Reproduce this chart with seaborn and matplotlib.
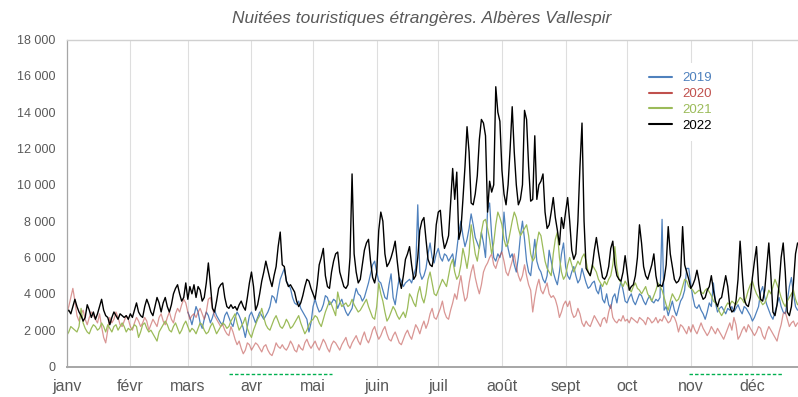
import numpy as np
import pandas as pd
import matplotlib
matplotlib.use("Agg")
import matplotlib.pyplot as plt
import matplotlib.transforms as mtransforms
from matplotlib.lines import Line2D
from matplotlib.ticker import FuncFormatter, FixedLocator
import seaborn as sns

# Nuitées quotidiennes de touristes étrangers, en centaines, jour 0 = 1er janvier
nuitees_2019 = [np.nan] * 59 + [
    30, 27, 23, 28,
    33, 30, 24, 21, 26, 30, 28,
    24, 27, 31, 28, 26, 24, 23,
    28, 30, 27, 24, 22, 27, 30,
    28, 25, 21, 16, 22, 28, 30,
    27, 24, 27, 30, 28, 26, 28,
    30, 33, 39, 38, 35, 42, 48,
    51, 54, 47, 45, 43, 38, 35,
    34, 36, 32, 30, 28, 26, 19,
    24, 33, 37, 33, 30, 31, 34,
    39, 38, 34, 35, 37, 36, 32,
    35, 37, 33, 30, 28, 30, 32,
    38, 43, 40, 39, 36, 38, 42,
    46, 51, 56, 58, 52, 47, 46,
    42, 38, 37, 45, 51, 38, 34,
    42, 49, 47, 44, 46, 47, 48,
    46, 50, 54, 89, 52, 48, 50,
    54, 62, 68, 60, 57, 62, 65,
    60, 58, 62, 61, 58, 60, 62,
    55, 64, 74, 80, 72, 66, 70,
    76, 84, 78, 71, 68, 65, 74,
    68, 60, 86, 90, 72, 60, 58,
    62, 60, 64, 85, 72, 65, 60,
    62, 56, 52, 60, 72, 80, 70,
    58, 52, 50, 60, 70, 58, 54,
    52, 48, 46, 50, 64, 58, 52,
    48, 45, 52, 62, 68, 55, 50,
    48, 52, 55, 50, 46, 48, 54,
    50, 46, 43, 44, 46, 47, 42,
    40, 45, 37, 35, 40, 34, 32,
    38, 40, 35, 42, 47, 42, 36,
    35, 38, 40, 36, 34, 37, 40,
    39, 36, 34, 37, 39, 36, 35,
    37, 36, 38, 81, 31, 33, 28,
    32, 36, 31, 28, 32, 36, 38,
    42, 54, 54, 45, 38, 33, 32,
    34, 31, 29, 26, 30, 35, 33,
    46, 35, 30, 32, 33, 31, 29,
    32, 31, 33, 30, 32, 34, 31,
    29, 33, 32, 30, 28, 25, 27,
    30, 33, 41, 44, 38, 34, 31,
    28, 26, 30, 34, 38, 33, 30,
    29, 36, 44, 49, 40, 33, 31,
]

nuitees_2020 = [
    29, 33, 38, 43, 36, 28, 25,
    29, 31, 26, 23, 27, 30, 28,
    26, 24, 29, 22, 16, 13, 20,
    27, 24, 26, 30, 27, 23, 22,
    25, 28, 26, 22, 20, 24, 27,
    25, 22, 24, 27, 25, 20, 23,
    26, 24, 22, 27, 29, 25, 23,
    27, 30, 26, 24, 29, 32, 30,
    34, 37, 35, 30, 26, 28, 29,
    27, 30, 32, 29, 26, 30, 37,
    38, 32, 28, 26, 24, 22, 23,
    20, 18, 17, 22, 19, 15, 12,
    14, 10, 7, 9, 13, 12, 9,
    11, 13, 12, 10, 8, 11, 12,
    9, 7, 6, 9, 13, 11, 10,
    12, 10, 9, 11, 14, 12, 9,
    8, 12, 10, 9, 13, 15, 12,
    10, 12, 14, 11, 9, 12, 15,
    13, 10, 8, 12, 14, 13, 11,
    9, 12, 14, 16, 12, 10, 13,
    15, 17, 14, 12, 16, 19, 15,
    13, 16, 20, 22, 18, 15, 17,
    20, 22, 18, 15, 14, 17, 19,
    16, 13, 12, 15, 18, 20, 17,
    15, 19, 23, 21, 18, 22, 25,
    21, 24, 29, 32, 27, 26, 29,
    32, 36, 30, 27, 26, 31, 35,
    40, 37, 44, 50, 42, 36, 38,
    46, 52, 56, 49, 44, 40, 45,
    52, 55, 57, 60, 62, 56, 54,
    58, 61, 63, 58, 52, 50, 54,
    58, 62, 55, 50, 47, 50, 56,
    50, 45, 42, 30, 38, 44, 48,
    42, 40, 43, 46, 40, 38, 39,
    37, 33, 27, 30, 34, 36, 33,
    36, 30, 27, 28, 32, 29, 24,
    22, 25, 23, 22, 25, 28, 26,
    24, 22, 26, 27, 24, 30, 34,
    27, 25, 24, 26, 25, 28, 25,
    26, 24, 27, 26, 25, 24, 27,
    26, 25, 23, 27, 26, 24, 25,
    27, 24, 26, 25, 28, 26, 24,
    25, 28, 27, 24, 19, 23, 22,
    20, 18, 22, 19, 23, 20, 18,
    21, 24, 21, 19, 17, 19, 22,
    20, 18, 21, 19, 17, 15, 18,
    21, 24, 20, 27, 23, 15, 17,
    20, 22, 19, 23, 21, 19, 17,
    19, 22, 21, 17, 15, 19, 22,
    20, 18, 16, 14, 19, 23, 29,
    30, 26, 22, 24, 25, 22, 24,
]

nuitees_2021 = [
    17, 19, 22, 21, 20, 19, 22,
    32, 24, 21, 19, 18, 21, 23,
    22, 20, 21, 24, 22, 19, 23,
    21, 19, 22, 23, 20, 22, 24,
    22, 19, 21, 20, 21, 23, 22,
    16, 19, 23, 24, 21, 19, 20,
    18, 16, 14, 19, 21, 23, 25,
    23, 20, 19, 22, 24, 21, 18,
    20, 23, 25, 22, 19, 21, 20,
    18, 21, 24, 23, 20, 18, 19,
    22, 24, 21, 18, 20, 22, 24,
    23, 21, 22, 25, 27, 29, 24,
    20, 22, 24, 27, 21, 18, 16,
    20, 23, 26, 28, 32, 27, 23,
    21, 20, 23, 26, 28, 25, 22,
    21, 23, 26, 24, 21, 22, 24,
    26, 28, 24, 21, 18, 20, 23,
    25, 26, 28, 27, 24, 22, 26,
    30, 33, 36, 34, 31, 28, 41,
    36, 33, 34, 35, 33, 34, 37,
    34, 32, 30, 31, 33, 35, 37,
    33, 30, 27, 26, 33, 46, 40,
    36, 30, 25, 27, 30, 33, 31,
    28, 26, 28, 30, 27, 32, 40,
    38, 35, 33, 40, 44, 38, 35,
    40, 48, 52, 46, 40, 39, 42,
    45, 48, 46, 44, 50, 56, 59,
    52, 48, 50, 56, 65, 60, 54,
    62, 78, 70, 62, 58, 66, 74,
    80, 81, 76, 70, 62, 68, 78,
    85, 82, 78, 70, 66, 68, 74,
    80, 85, 82, 76, 72, 74, 76,
    78, 72, 62, 58, 60, 68, 74,
    72, 65, 58, 54, 52, 50, 62,
    70, 74, 60, 52, 48, 50, 56,
    60, 56, 52, 55, 58, 56, 60,
    62, 58, 52, 50, 56, 54, 52,
    48, 46, 44, 47, 45, 48, 50,
    56, 66, 54, 48, 46, 44, 47,
    45, 43, 41, 44, 46, 43, 42,
    40, 42, 44, 40, 38, 36, 39,
    42, 46, 44, 42, 38, 34, 31,
    36, 40, 38, 36, 37, 40, 44,
    48, 47, 44, 43, 42, 40, 41,
    42, 41, 40, 42, 43, 41, 39,
    36, 35, 33, 30, 28, 30, 33,
    35, 34, 36, 35, 34, 36, 38,
    37, 35, 38, 42, 45, 47, 43,
    40, 38, 36, 34, 35, 38, 42,
    40, 44, 48, 45, 42, 38, 35,
    33, 36, 38, 40, 42, 37, 34,
]

nuitees_2022 = [
    30, 31, 29, 33, 37, 33, 30,
    28, 25, 27, 34, 31, 27, 30,
    26, 29, 33, 37, 31, 28, 27,
    23, 27, 30, 28, 26, 29, 28,
    27, 28, 26, 29, 27, 31, 35,
    30, 28, 27, 33, 37, 34, 30,
    28, 33, 38, 35, 30, 35, 38,
    33, 30, 34, 40, 43, 45, 40,
    36, 38, 46, 37, 44, 40, 45,
    38, 44, 42, 36, 38, 46, 57,
    45, 32, 30, 36, 43, 45, 46,
    38, 33, 32, 34, 32, 33, 31,
    34, 36, 33, 31, 38, 46, 52,
    44, 31, 34, 40, 47, 52, 58,
    53, 48, 44, 50, 55, 66, 74,
    56, 55, 47, 44, 45, 43, 41,
    36, 33, 35, 39, 44, 48, 47,
    43, 40, 37, 45, 56, 60, 65,
    50, 44, 43, 52, 58, 62, 63,
    52, 48, 44, 43, 45, 60, 106,
    62, 52, 46, 48, 56, 64, 68,
    70, 58, 49, 46, 52, 75, 85,
    80, 62, 55, 57, 60, 64, 69,
    58, 48, 43, 50, 59, 62, 66,
    56, 48, 50, 60, 75, 80, 82,
    70, 59, 56, 55, 62, 78, 85,
    86, 72, 65, 68, 72, 90, 109,
    92, 107, 70, 75, 92, 110, 132,
    118, 90, 89, 95, 105, 125, 136,
    134, 127, 85, 102, 96, 100, 154,
    140, 135, 108, 95, 89, 100, 120,
    143, 118, 100, 89, 92, 100, 141,
    136, 110, 91, 92, 127, 92, 100,
    102, 106, 85, 76, 78, 85, 93,
    82, 75, 67, 82, 76, 85, 93,
    80, 64, 59, 62, 80, 110, 134,
    80, 54, 52, 50, 55, 64, 71,
    63, 56, 49, 48, 50, 55, 65,
    69, 56, 50, 48, 47, 52, 61,
    52, 42, 44, 45, 50, 60, 78,
    68, 55, 50, 48, 52, 56, 62,
    50, 44, 45, 44, 48, 56, 77,
    62, 55, 48, 46, 47, 50, 77,
    56, 52, 48, 43, 45, 48, 53,
    47, 40, 37, 38, 42, 44, 50,
    42, 36, 33, 37, 38, 44, 50,
    44, 33, 30, 31, 36, 48, 69,
    52, 37, 34, 33, 38, 49, 58,
    66, 45, 37, 36, 42, 55, 68,
    50, 30, 28, 34, 45, 60, 68,
    52, 30, 28, 33, 46, 62, 68,
]

years = ["2019", "2020", "2021", "2022"]
month_labels = ["janv", "févr", "mars", "avr", "mai", "juin",
                "juil", "août", "sept", "oct", "nov", "déc"]
month_start = [0, 31, 59, 90, 120, 151, 181, 212, 243, 273, 304, 334]
y_ticks = [0, 2000, 4000, 6000, 8000, 10000, 12000, 14000, 16000, 18000]

# Périodes de confinement (jours de l'année)
confinement_debut = [79, 303]
confinement_fin = [129, 349]

series = {"2019": nuitees_2019, "2020": nuitees_2020,
          "2021": nuitees_2021, "2022": nuitees_2022}
frames = []
for yr in years:
    vals = np.array(series[yr], dtype=float) * 100
    frames.append(pd.DataFrame({"jour": np.arange(len(vals)),
                                "nuitees": vals, "annee": yr}))
df = pd.concat(frames, ignore_index=True).dropna()

colors = {"2019": "#4f81bd", "2020": "#c0504d", "2021": "#9bbb59", "2022": "#000000"}
line_alpha = {"2019": 1.0, "2020": 0.6, "2021": 1.0, "2022": 1.0}
line_width = {"2019": 0.9, "2020": 0.9, "2021": 0.9, "2022": 1.0}

sns.set_theme(style="white")
plt.rcParams["font.family"] = ["Liberation Sans", "DejaVu Sans"]

W, H = 798, 397
fig = plt.figure(figsize=(W / 100, H / 100), dpi=100)
x0, y_bottom, y_top = 66.7, 366.5, 39.5
ax = fig.add_axes([x0 / W, (H - y_bottom) / H, 1 - x0 / W, (y_bottom - y_top) / H])

for yr in years:
    sub = df[df["annee"] == yr]
    sns.lineplot(data=sub, x="jour", y="nuitees", color=colors[yr],
                 lw=line_width[yr], alpha=line_alpha[yr], estimator=None,
                 sort=False, ax=ax, legend=False)

ax.set_xlim(0, (W - x0) / 2.053)
ax.set_ylim(0, 18000)

# vertical month gridlines
for d in month_start[1:]:
    ax.axvline(d, color="#dedede", lw=0.8, zorder=0)

ax.xaxis.set_major_locator(FixedLocator(month_start))
ax.set_xticklabels(month_labels)
ax.set_yticks(y_ticks)
ax.yaxis.set_major_formatter(FuncFormatter(lambda v, p: f"{int(v):,}".replace(",", " ")))
ax.tick_params(axis="x", length=0, pad=9, labelsize=11.5, labelcolor="#595959")
ax.tick_params(axis="y", length=0, pad=8, labelsize=9, labelcolor="#595959")
ax.set_xlabel("")
ax.set_ylabel("")

ax.spines["right"].set_visible(False)
ax.spines["top"].set_color("#d0d0d0")
ax.spines["top"].set_linewidth(1.0)
ax.spines["left"].set_color("#a6a6a6")
ax.spines["left"].set_linewidth(0.9)
ax.spines["bottom"].set_color("#a6a6a6")
ax.spines["bottom"].set_linewidth(1.4)

# confinement markers below the date axis
trans = mtransforms.blended_transform_factory(ax.transData, ax.transAxes)
for a, b in zip(confinement_debut, confinement_fin):
    ax.plot([a, b], [-0.023, -0.023], transform=trans, clip_on=False,
            color="#00b050", lw=1.0, ls=(0, (2.5, 1.5)))

handles = [Line2D([0], [0], color=colors[yr], lw=1.5) for yr in years]
leg = ax.legend(handles, years, loc="upper left",
                bbox_to_anchor=((640 - x0) / (W - x0), (y_bottom - 63) / (y_bottom - y_top)),
                borderaxespad=0, frameon=True, facecolor="white", edgecolor="none",
                framealpha=1, fontsize=9.5, handlelength=1.75, handletextpad=0.75,
                labelspacing=0.27, borderpad=0.7, labelcolor="linecolor")
leg.get_frame().set_linewidth(0)

fig.text(421.5 / W, 1 - 18 / H, "Nuitées touristiques étrangères. Albères Vallespir",
         ha="center", va="center", style="italic", color="#595959", fontsize=12.5)

fig.savefig("out.png", dpi=100)
